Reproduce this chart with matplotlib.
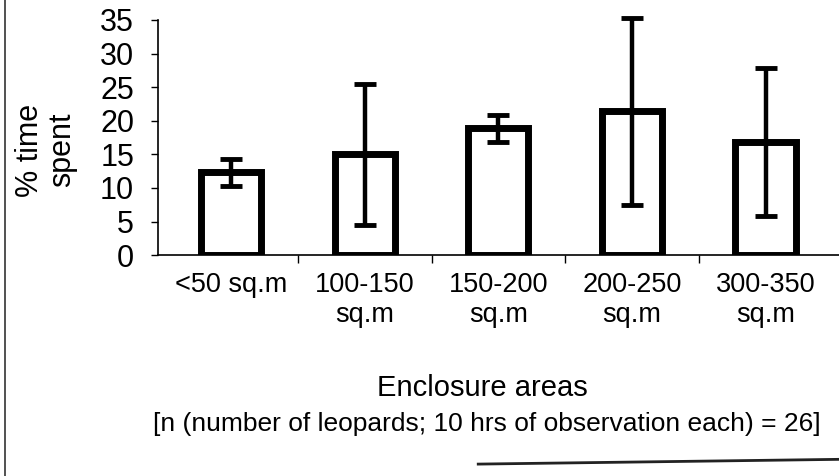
import matplotlib.pyplot as plt
from matplotlib.lines import Line2D
from matplotlib import font_manager

# categories and values
areas = ['<50 sq.m', '100-150\nsq.m', '150-200\nsq.m', '200-250\nsq.m', '300-350\nsq.m']
time_spent = [12.3, 15.0, 18.9, 21.4, 16.8]
errors = [2.0, 10.5, 2.0, 13.9, 11.0]
y_ticks = [0, 5, 10, 15, 20, 25, 30, 35]

# narrow Arial-like face if there is one
names = {f.name for f in font_manager.fontManager.ttflist}
face = 'Liberation Sans Narrow' if 'Liberation Sans Narrow' in names else 'Liberation Sans'
plt.rcParams['font.family'] = [face, 'DejaVu Sans']

fig = plt.figure(figsize=(8.39, 4.76), dpi=100)
ax = fig.add_axes([0.188, 0.464, 0.812, 0.494])

x = list(range(len(areas)))
ax.bar(x, time_spent, width=0.45, facecolor='white', edgecolor='black', linewidth=5, zorder=2)
ax.errorbar(x, time_spent, yerr=errors, fmt='none', ecolor='black', elinewidth=3.2,
            capsize=8, capthick=3.5, zorder=3, clip_on=False)

ax.set_xlim(-0.55, 4.55)
ax.set_ylim(0, 35)
ax.set_yticks(y_ticks)
ax.tick_params(axis='y', labelsize=22, length=5, width=1, direction='out', pad=12)

# category boundaries get the tick marks, labels sit under the bars
ax.set_xticks([i + 0.5 for i in x[:-1]])
ax.set_xticklabels([])
ax.tick_params(axis='x', length=6, width=1, direction='out')
for i, lab in enumerate(areas):
    ax.text(i, -2.5, lab, ha='center', va='top', fontsize=19.5, linespacing=1.2)

for s in ['top', 'right']:
    ax.spines[s].set_visible(False)
ax.spines['left'].set_linewidth(1.2)
ax.spines['bottom'].set_linewidth(1.2)

fig.text(0.055, 0.685, '% time\nspent', rotation=90, ha='center', va='center',
         fontsize=22, linespacing=1.1)
fig.text(0.575, 0.185, 'Enclosure areas', ha='center', va='center', fontsize=21)
fig.text(0.58, 0.11, '[n (number of leopards; 10 hrs of observation each) = 26]',
         ha='center', va='center', fontsize=19)

# page edges from the scan
fig.add_artist(Line2D([0.006, 0.006], [0.0, 1.0], color='#333333', linewidth=1.2))
fig.add_artist(Line2D([0.57, 1.0], [0.025, 0.035], color='#222222', linewidth=2))

fig.savefig('out.png', dpi=100, facecolor='white')
